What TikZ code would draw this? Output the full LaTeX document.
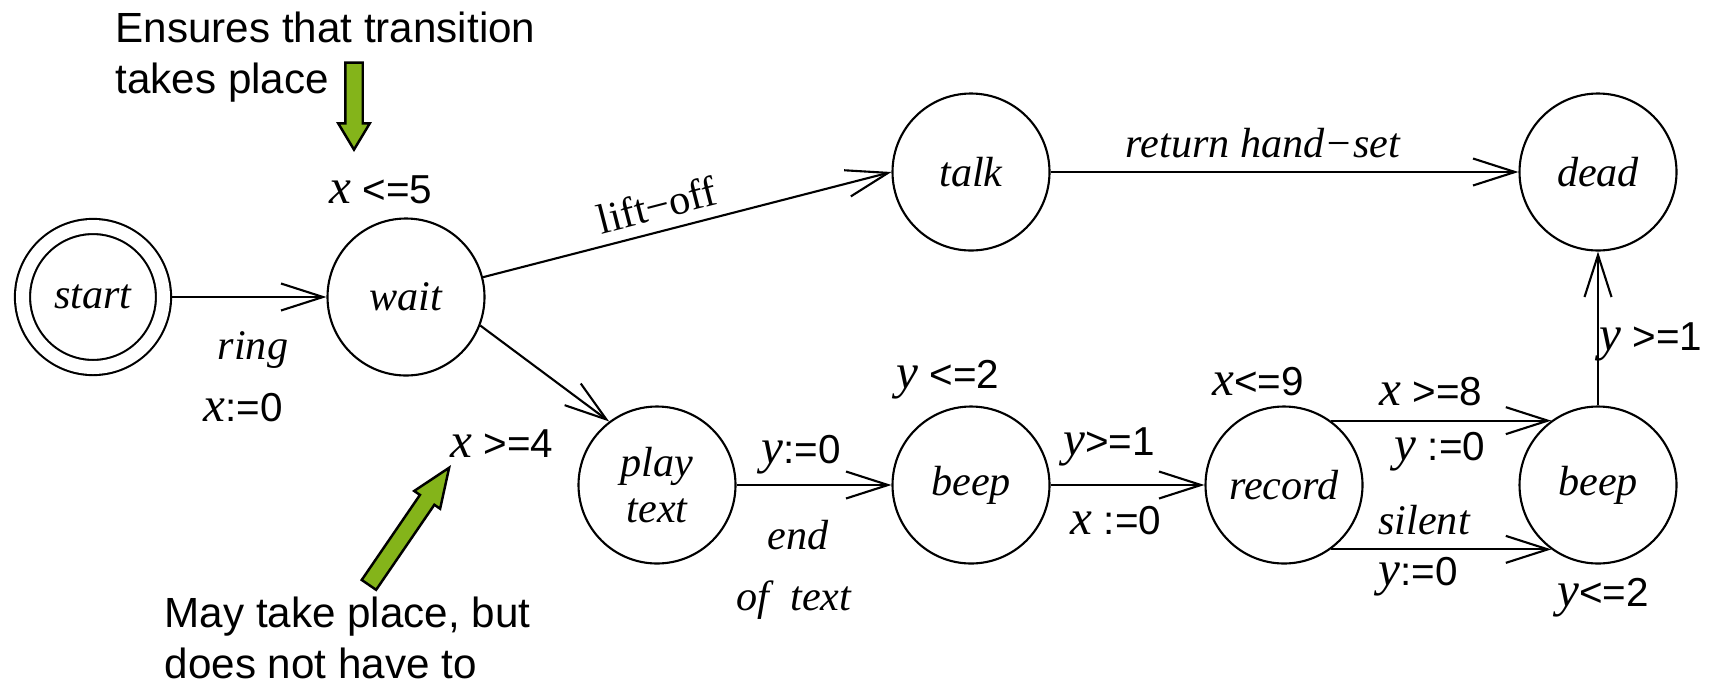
\documentclass[tikz,border=0pt]{standalone}
\usepackage{fontspec}
\setmainfont{Liberation Serif}
\setsansfont{Liberation Sans}
\usepackage{xcolor}
\usepackage{tikz}
\usetikzlibrary{arrows.meta}
\usetikzlibrary{automata,shapes.arrows}

\definecolor{hintgreen}{RGB}{132,180,26}
\newcommand{\clk}[1]{{\rmfamily\itshape\fontsize{14}{14}\selectfont #1}}

\tikzset{
  loc/.style={state, minimum size=1.57cm, inner sep=0pt, line width=0.6pt,
    font=\itshape\fontsize{12}{13}\selectfont},
  trans/.style={-{Straight Barb[length=0.42cm, width=0.27cm]}, line width=0.6pt},
  act/.style={font=\itshape\fontsize{12}{13}\selectfont},
  guard/.style={font=\sffamily\fontsize{11.5}{13}\selectfont},
  note/.style={font=\sffamily\fontsize{12}{14.5}\selectfont, align=left, inner sep=0pt},
  hint/.style={single arrow, draw, fill=hintgreen, line width=0.7pt,
    single arrow head extend=0.07cm, inner xsep=0pt, inner ysep=0.075cm}
}

\begin{document}
\begin{tikzpicture}
    \useasboundingbox (0,0) rectangle (17.15,6.83);
    % locations
    \node[loc, accepting, minimum size=1.41cm, double distance=0.13cm, outer sep=0.08cm] (start) at (0.93,3.86) {start};
    \node[loc] (wait) at (4.06,3.86) {wait};
    \node[loc] (talk) at (9.71,5.11) {talk};
    \node[loc] (dead) at (15.98,5.11) {dead};
    \node[loc, align=center] (play) at (6.57,1.98) {play\\text};
    \node[loc] (beep) at (9.71,1.98) {beep};
    \node[loc] (record) at (12.84,1.98) {record};
    \node[loc] (beepb) at (15.98,1.98) {beep};

    % transitions
    \draw[trans] (start) -- (wait);
    \draw[trans] (wait) -- (talk.west);
    \draw[trans] (talk) -- (dead);
    \draw[trans] (wait.-21) -- (play.127);
    \draw[trans] (play) -- (beep);
    \draw[trans] (beep) -- (record);
    \draw[trans] (record.54) -- (beepb.126);
    \draw[trans] (record.-54) -- (beepb.-126);
    \draw[trans] (beepb) -- (dead);

    % labels, guards and invariants
    \node[act] (ring) at (2.53,3.33) {ring};
    \node[guard] (resx) at (2.43,2.75) {\clk{x}:=0};
    \node[guard] (invw) at (3.81,4.93) {\clk{x} <=5};
    \node[font=\fontsize{12}{13}\selectfont, rotate=14.4] (lift) at (6.57,4.78) {lift−off};
    \node[act] (ret) at (12.63,5.40) {return hand−set};
    \node[guard] (gdead) at (16.51,3.41) {\clk{y} >=1};
    \node[guard] (invb) at (9.48,3.03) {\clk{y} <=2};
    \node[guard] (gplay) at (5.02,2.39) {\clk{x} >=4};
    \node[guard] (resy) at (8.01,2.28) {\clk{y}:=0};
    \node[act] (eot) at (7.98,1.48) {end};
    \node[act] (eotb) at (7.94,0.83) {of\ \ text};
    \node[guard] (gbeep) at (11.09,2.36) {\clk{y}>=1};
    \node[guard] (resxb) at (11.16,1.62) {\clk{x} :=0};
    \node[guard] (invr) at (12.58,3.01) {\clk{x}<=9};
    \node[guard] (gup) at (14.31,2.91) {\clk{x} >=8};
    \node[guard] (resup) at (14.40,2.31) {\clk{y} :=0};
    \node[act] (silent) at (14.24,1.63) {silent};
    \node[guard] (resdn) at (14.18,1.06) {\clk{y}:=0};
    \node[guard] (invbb) at (16.03,0.85) {\clk{y}<=2};

    % notes
    \node[note, anchor=base west] (ensures) at (1.15,5.90) {Ensures that transition\\takes place};
    \node[note, anchor=base west] (may) at (1.64,0.05) {May take place, but\\does not have to};
    \node[hint, rotate=-90, anchor=tip, minimum height=0.87cm, single arrow tip angle=62] (hdown) at (3.54,5.31) {};
    \node[hint, rotate=55.6, anchor=tip, minimum height=1.42cm, single arrow tip angle=44] (hup) at (4.51,2.18) {};
\end{tikzpicture}
\end{document}
